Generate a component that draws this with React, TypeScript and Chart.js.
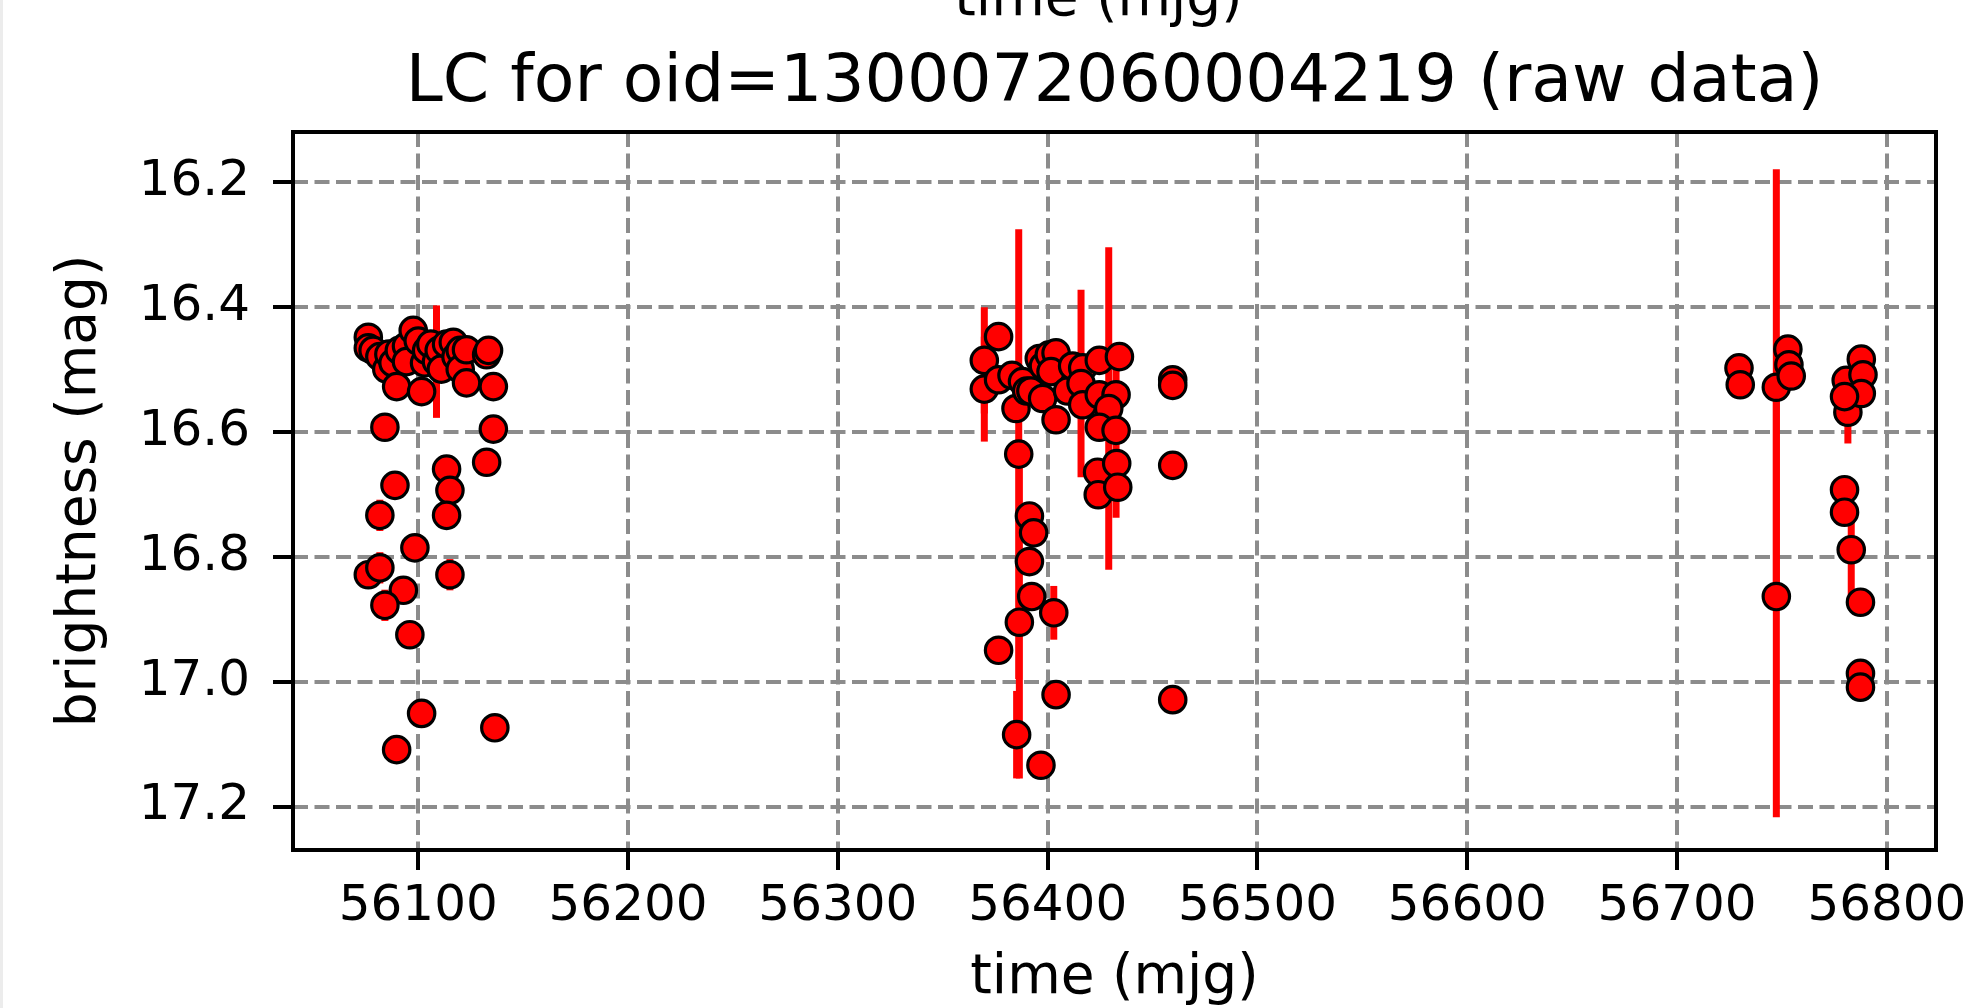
import React, { useEffect, useRef } from "react";
import { Chart, registerables } from "chart.js";

Chart.register(...registerables);

// ---- data ----
const season1Times = [
  56076.2, 56076.2, 56078.5, 56081.7, 56085.0, 56086.0, 56088.0, 56089.7, 56091.0, 56094.4,
  56094.4, 56097.6, 56100.0, 56101.6, 56103.0, 56104.0, 56106.0, 56108.7, 56110.0, 56111.0,
  56113.5, 56116.7, 56118.0, 56120.0, 56120.0, 56123.0, 56123.0, 56132.6, 56133.5, 56135.8,
  56135.8, 56084.1, 56132.6, 56113.5, 56115.1, 56088.9, 56081.7, 56113.5, 56098.4, 56076.2,
  56081.7, 56115.1, 56092.9, 56084.1, 56096.0, 56101.6, 56136.5, 56089.7,
];
const season1Mags = [
  16.449, 16.466, 16.47, 16.48, 16.5, 16.476, 16.49, 16.528, 16.47, 16.463,
  16.488, 16.438, 16.455, 16.536, 16.49, 16.47, 16.46, 16.488, 16.47, 16.5,
  16.46, 16.457, 16.48, 16.47, 16.5, 16.469, 16.522, 16.477, 16.47, 16.528,
  16.596, 16.593, 16.649, 16.66, 16.694, 16.686, 16.734, 16.734, 16.786, 16.829,
  16.818, 16.829, 16.854, 16.878, 16.925, 17.051, 17.074, 17.109,
];
const season1Errs = [
  0.015, 0.015, 0.015, 0.02, 0.015, 0.015, 0.015, 0.015, 0.015, 0.015,
  0.015, 0.015, 0.015, 0.02, 0.015, 0.015, 0.015, 0.09, 0.015, 0.015,
  0.015, 0.015, 0.015, 0.015, 0.015, 0.015, 0.015, 0.015, 0.015, 0.015,
  0.015, 0.02, 0.02, 0.015, 0.015, 0.015, 0.025, 0.015, 0.015, 0.015,
  0.025, 0.025, 0.015, 0.025, 0.015, 0.015, 0.02, 0.015,
];

const season2Times = [
  56369.8, 56369.8, 56376.6, 56376.6, 56383.0, 56384.9, 56386.2, 56388.0, 56390.0, 56392.0,
  56391.3, 56393.3, 56391.3, 56392.4, 56386.5, 56376.6, 56402.9, 56404.0, 56385.2, 56396.8,
  56396.0, 56398.0, 56400.8, 56404.0, 56401.6, 56397.6, 56404.0, 56409.5, 56411.9, 56416.7,
  56415.9, 56416.7, 56424.6, 56434.2, 56424.6, 56432.6, 56429.1, 56424.6, 56432.6, 56423.8,
  56432.9, 56424.1, 56433.4, 56459.6, 56459.6, 56459.6, 56459.6,
];
const season2Mags = [
  16.486, 16.532, 16.448, 16.517, 16.51, 16.563, 16.636, 16.52, 16.535, 16.535,
  16.735, 16.762, 16.808, 16.864, 16.905, 16.95, 16.89, 17.021, 17.085, 17.134,
  16.483, 16.495, 16.477, 16.474, 16.504, 16.547, 16.581, 16.535, 16.495, 16.498,
  16.523, 16.557, 16.486, 16.48, 16.541, 16.541, 16.563, 16.593, 16.598, 16.665,
  16.651, 16.701, 16.689, 16.517, 16.526, 16.654, 17.029,
];
const season2Errs = [
  0.085, 0.084, 0.015, 0.015, 0.015, 0.015, 0.36, 0.015, 0.015, 0.015,
  0.015, 0.015, 0.015, 0.015, 0.25, 0.015, 0.043, 0.015, 0.07, 0.02,
  0.015, 0.015, 0.015, 0.015, 0.015, 0.015, 0.015, 0.015, 0.015, 0.015,
  0.15, 0.015, 0.015, 0.015, 0.015, 0.015, 0.258, 0.015, 0.14, 0.015,
  0.015, 0.015, 0.015, 0.01, 0.01, 0.01, 0.01,
];

const season3Times = [
  56729.5, 56730.1, 56747.3, 56747.3, 56752.8, 56753.3, 56754.4, 56780.6, 56781.4, 56787.8,
  56788.6, 56787.8, 56779.8, 56779.8, 56779.8, 56783.0, 56787.4, 56787.4, 56787.4,
];
const season3Mags = [
  16.498, 16.525, 16.529, 16.864, 16.468, 16.493, 16.511, 16.518, 16.569, 16.484,
  16.509, 16.539, 16.544, 16.693, 16.729, 16.789, 16.873, 16.987, 17.009,
];
const season3Errs = [
  0.015, 0.01, 0.349, 0.353, 0.015, 0.01, 0.01, 0.015, 0.05, 0.015,
  0.01, 0.01, 0.015, 0.02, 0.02, 0.075, 0.015, 0.015, 0.02,
];

const xTickValues = [56100, 56200, 56300, 56400, 56500, 56600, 56700, 56800];
const yTickValues = [16.2, 16.4, 16.6, 16.8, 17.0, 17.2];
const xLimits = [56040.3, 56823.4];
const yLimits = [16.1205, 17.2696];

const titleText = "LC for oid=1300072060004219 (raw data)";
const xAxisLabel = "time (mjg)";
const yAxisLabel = "brightness (mag)";
const clippedAboveLabel = "time (mjg)";

const FONT = '"DejaVu Sans"';
const W = 1975;
const H = 1008;

const allTimes = [...season1Times, ...season2Times, ...season3Times];
const allMags = [...season1Mags, ...season2Mags, ...season3Mags];
const allErrs = [...season1Errs, ...season2Errs, ...season3Errs];

const errorBarPlugin = {
  id: "errorBars",
  beforeDatasetsDraw(chart: any) {
    const { ctx, chartArea, scales } = chart;
    ctx.save();
    ctx.beginPath();
    ctx.rect(chartArea.left, chartArea.top, chartArea.right - chartArea.left, chartArea.bottom - chartArea.top);
    ctx.clip();
    ctx.strokeStyle = "#ff0000";
    ctx.lineWidth = 7;
    ctx.lineCap = "butt";
    for (let i = 0; i < allTimes.length; i++) {
      const x = scales.x.getPixelForValue(allTimes[i]);
      const y1 = scales.y.getPixelForValue(allMags[i] - allErrs[i]);
      const y2 = scales.y.getPixelForValue(allMags[i] + allErrs[i]);
      ctx.beginPath();
      ctx.moveTo(x, y1);
      ctx.lineTo(x, y2);
      ctx.stroke();
    }
    ctx.restore();
  },
};

const decorPlugin = {
  id: "decor",
  beforeDraw(chart: any) {
    const { ctx } = chart;
    ctx.save();
    ctx.fillStyle = "#ffffff";
    ctx.fillRect(0, 0, W, H);
    ctx.fillStyle = "#ececec";
    ctx.fillRect(0, 0, 3, H);
    ctx.restore();
  },
  afterDraw(chart: any) {
    const { ctx, chartArea } = chart;
    ctx.save();
    ctx.strokeStyle = "#000000";
    ctx.lineWidth = 4;
    ctx.strokeRect(chartArea.left, chartArea.top, chartArea.right - chartArea.left, chartArea.bottom - chartArea.top);
    const cx = (chartArea.left + chartArea.right) / 2;
    ctx.fillStyle = "#000000";
    ctx.textAlign = "center";
    ctx.textBaseline = "alphabetic";
    ctx.font = `66.5px ${FONT}`;
    ctx.fillText(titleText, cx, 101);
    ctx.font = `55px ${FONT}`;
    ctx.fillText(clippedAboveLabel, cx - 16, 15);
    ctx.restore();
  },
};

export default function App() {
  const canvasRef = useRef<HTMLCanvasElement | null>(null);

  useEffect(() => {
    const canvas = canvasRef.current;
    if (!canvas) return;
    const points = allTimes.map((t, i) => ({ x: t, y: allMags[i] }));
    const chart = new Chart(canvas, {
      type: "scatter",
      data: {
        datasets: [
          {
            label: "raw",
            data: points,
            pointRadius: 13.2,
            pointHoverRadius: 13.2,
            pointBackgroundColor: "#ff0000",
            pointBorderColor: "#000000",
            pointBorderWidth: 3.2,
          },
        ],
      },
      options: {
        responsive: false,
        animation: false,
        devicePixelRatio: 1,
        events: [],
        layout: { padding: { left: 0, right: 39, top: 132, bottom: 0 } },
        plugins: {
          legend: { display: false },
          tooltip: { enabled: false },
          title: { display: false },
        },
        scales: {
          x: {
            type: "linear",
            position: "bottom",
            min: xLimits[0],
            max: xLimits[1],
            afterBuildTicks: (scale: any) => {
              scale.ticks = xTickValues.map((v) => ({ value: v }));
            },
            afterFit: (scale: any) => {
              scale.height = H - 850;
            },
            ticks: {
              color: "#000000",
              font: { family: FONT, size: 50 },
              padding: 7,
              maxRotation: 0,
              autoSkip: false,
              callback: (v: any) => String(v),
            },
            grid: {
              color: "#8c8c8c",
              lineWidth: 4,
              tickColor: "#000000",
              tickWidth: 4,
              tickLength: 20,
              tickBorderDash: [],
            },
            border: { display: false, dash: [15, 6.5] },
            title: {
              display: true,
              text: xAxisLabel,
              color: "#000000",
              font: { family: FONT, size: 55, lineHeight: 1 },
              padding: { top: 0, bottom: 1.5 },
            },
          },
          y: {
            type: "linear",
            position: "left",
            reverse: true,
            min: yLimits[0],
            max: yLimits[1],
            afterBuildTicks: (scale: any) => {
              scale.ticks = yTickValues.map((v) => ({ value: v }));
            },
            afterFit: (scale: any) => {
              scale.width = 293;
            },
            ticks: {
              color: "#000000",
              font: { family: FONT, size: 50 },
              padding: 23,
              autoSkip: false,
              callback: (v: any) => Number(v).toFixed(1),
            },
            grid: {
              color: "#8c8c8c",
              lineWidth: 4,
              tickColor: "#000000",
              tickWidth: 4,
              tickLength: 20,
              tickBorderDash: [],
            },
            border: { display: false, dash: [15, 6.5] },
            title: {
              display: true,
              text: yAxisLabel,
              color: "#000000",
              font: { family: FONT, size: 55, lineHeight: 1.2 },
              padding: { top: 48, bottom: 0 },
            },
          },
        },
      },
      plugins: [errorBarPlugin, decorPlugin],
    } as any);
    return () => chart.destroy();
  }, []);

  return (
    <div style={{ position: "absolute", left: 0, top: 0, width: W, height: H, background: "#fff" }}>
      <canvas ref={canvasRef} width={W} height={H} style={{ display: "block", width: W, height: H }} />
    </div>
  );
}
